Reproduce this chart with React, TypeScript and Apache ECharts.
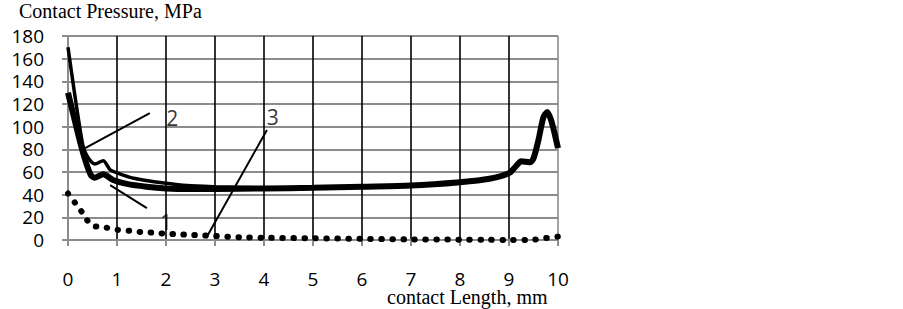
import React, { useEffect, useRef } from "react";
import * as echarts from "echarts";

// Curve 2 (upper, thinner line)
const curve2X = [0, 0.3, 0.42, 0.55, 0.72, 0.86, 1.02, 1.25, 1.53, 2.0, 2.43, 3.0, 3.5, 4.0];
const curve2Y = [170, 84, 72, 67, 70, 62, 59, 55.5, 53, 50, 48, 47, 46.5, 46];

// Curve 1 (lower, thick line)
const curve1X = [0, 0.25, 0.37, 0.47, 0.55, 0.72, 0.92, 1.2, 1.6, 2.0, 2.5, 3, 4, 5, 6, 7, 8, 8.6, 9, 9.12, 9.25, 9.35, 9.43, 9.5, 9.6, 9.7, 9.78, 9.85, 9.92, 10];
const curve1Y = [130, 86, 68, 57, 55, 58, 53, 49.5, 47, 45.5, 45, 45, 45.5, 46, 47, 48, 51, 54, 59, 64, 69.5, 69, 68.5, 72, 88, 108, 113, 107, 96, 81];

// Curve 3 (dotted)
const curve3X = [0, 0.14, 0.27, 0.39, 0.51, 0.71, 1.0, 1.27, 1.5, 1.74, 2.0, 2.25, 2.5, 2.76, 3.0, 3.5, 4, 5, 6, 7, 8, 8.5, 9, 9.5, 9.7, 9.8, 10];
const curve3Y = [41, 33, 25.5, 17.5, 12.5, 11.5, 9, 8, 7, 6.5, 5.5, 5, 4.5, 4, 3.5, 2.5, 2, 1.5, 1, 0.5, 0.3, 0.2, 0, 0.3, 1.5, 2, 3];

// Annotation labels and leader lines (data coordinates)
const annotText = ["2", "1", "3"];
const annotX = [2.13, 2.0, 4.18];
const annotY = [108, 16, 108.6];
const leaderStartX = [1.67, 0.86, 4.06];
const leaderStartY = [112, 48.5, 97];
const leaderEndX = [0.35, 1.61, 2.82];
const leaderEndY = [81, 28.2, 1.8];

const yTitle = "Contact Pressure, MPa";
const xTitle = "contact Length, mm";

const zip = (xs: number[], ys: number[]) => xs.map((x, i) => [x, ys[i]]);

export default function App() {
  const ref = useRef<HTMLDivElement>(null);
  useEffect(() => {
    if (!ref.current) return;
    const chart = echarts.init(ref.current, undefined, { renderer: "svg" });
    const gray = "#8c8c8c";
    const xSplitColors = [gray, "#000", "#000", "#000", "#000", "#000", "#000", "#000", "#000", "#000", gray];
    const sans = "Open Sans";
    const serif = "Liberation Serif";
    chart.setOption({
      animation: false,
      backgroundColor: "#fff",
      title: [
        {
          text: yTitle,
          left: 19,
          top: 1,
          padding: 0,
          textStyle: { fontFamily: serif, fontSize: 20, fontWeight: "normal", color: "#000" },
        },
        {
          text: xTitle,
          left: 387,
          top: 289,
          padding: 0,
          textStyle: { fontFamily: serif, fontSize: 20, fontWeight: "normal", color: "#000", lineHeight: 16 },
        },
      ],
      grid: { left: 68, right: 345, top: 36, bottom: 69, containLabel: false, outerBoundsMode: "none" },
      xAxis: {
        type: "value",
        min: 0,
        max: 10,
        interval: 1,
        axisLine: { show: true, lineStyle: { color: gray, width: 2 } },
        axisTick: { show: true, length: 6, lineStyle: { color: gray, width: 2 } },
        axisLabel: { margin: 32, fontFamily: sans, fontSize: 19, lineHeight: 14, color: "#000" },
        splitLine: { show: true, lineStyle: { color: xSplitColors, width: 1.6 } },
      },
      yAxis: {
        type: "value",
        min: 0,
        max: 180,
        interval: 20,
        axisLine: { show: true, lineStyle: { color: gray, width: 2 } },
        axisTick: { show: true, length: 6, lineStyle: { color: gray, width: 2 } },
        axisLabel: { margin: 24, fontFamily: sans, fontSize: 19, lineHeight: 18, color: "#000" },
        splitLine: { show: true, lineStyle: { color: gray, width: 2 } },
      },
      series: [
        {
          type: "line",
          name: "3",
          data: zip(curve3X, curve3Y),
          showSymbol: false,
          smooth: 0.3,
          lineStyle: { color: "#000", width: 6, type: [0.5, 10.5], cap: "round" },
          z: 3,
        },
        {
          type: "line",
          name: "1",
          data: zip(curve1X, curve1Y),
          showSymbol: false,
          smooth: 0.25,
          lineStyle: { color: "#000", width: 6 },
          z: 4,
        },
        {
          type: "line",
          name: "2",
          data: zip(curve2X, curve2Y),
          showSymbol: false,
          smooth: 0.25,
          lineStyle: { color: "#000", width: 3.5 },
          z: 5,
          markLine: {
            silent: true,
            symbol: "none",
            label: { show: false },
            lineStyle: { color: "#000", width: 2, type: "solid" },
            data: leaderStartX.map((x, i) => [
              { coord: [x, leaderStartY[i]] },
              { coord: [leaderEndX[i], leaderEndY[i]] },
            ]),
          },
        },
        {
          type: "scatter",
          name: "labels",
          data: annotX.map((x, i) => ({ value: [x, annotY[i]], name: annotText[i] })),
          symbolSize: 0,
          z: 6,
          label: {
            show: true,
            position: "inside",
            formatter: (p: any) => p.name,
            fontFamily: sans,
            fontSize: 21,
            color: "#000",
          },
        },
      ],
    });
    return () => chart.dispose();
  }, []);
  return (
    <div
      ref={ref}
      style={{ position: "absolute", left: 0, top: 0, width: 903, height: 309, background: "#fff" }}
    />
  );
}
